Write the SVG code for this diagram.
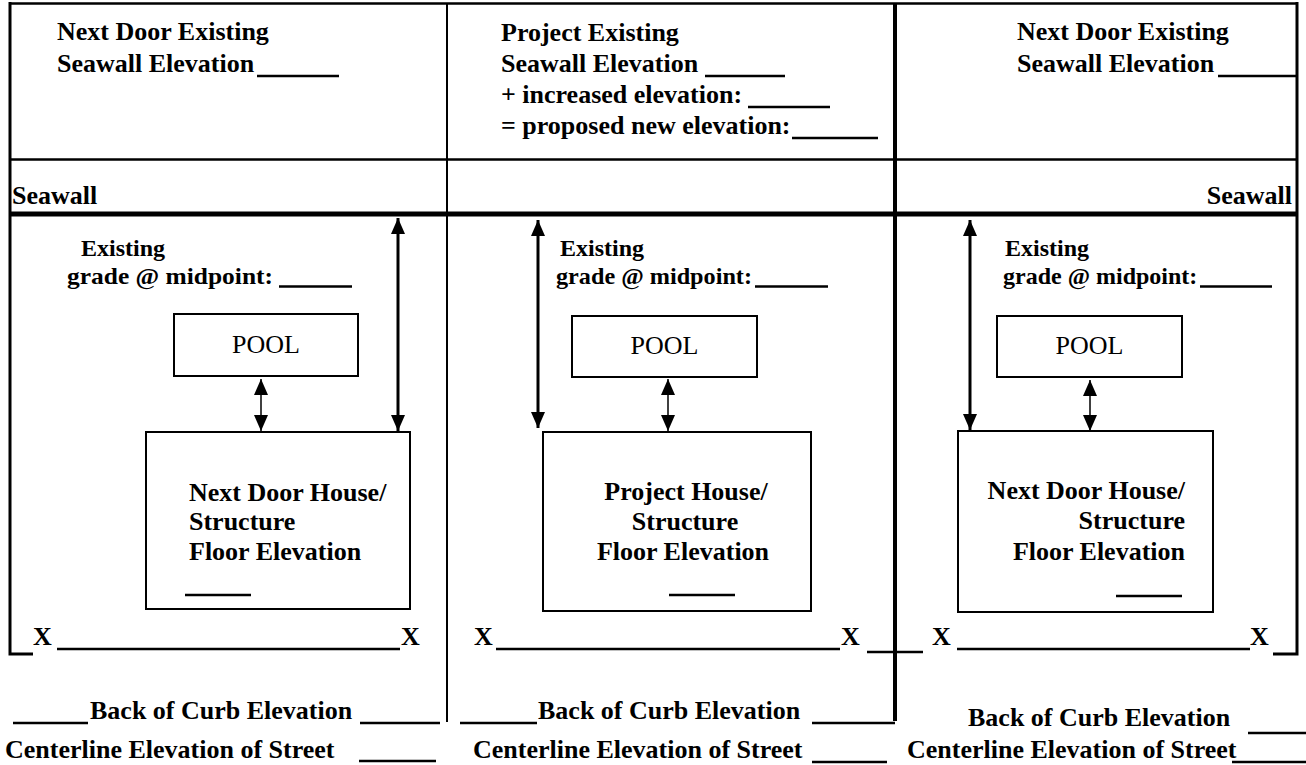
<svg xmlns="http://www.w3.org/2000/svg" width="1306" height="765" viewBox="0 0 1306 765" font-family="'Liberation Serif', 'Times New Roman', serif">
<style>
  .b { font-family: 'Liberation Serif', 'Times New Roman', serif; font-weight: bold; font-size: 26px; fill: #000; }
  .s { font-family: 'Liberation Serif', 'Times New Roman', serif; font-weight: bold; font-size: 24px; fill: #000; }
  .r { font-family: 'Liberation Serif', 'Times New Roman', serif; font-weight: normal; font-size: 26px; fill: #000; }
  .fr { stroke: #000; fill: none; stroke-width: 2.5; }
  .bx { stroke: #000; fill: #fff; stroke-width: 2; }
  .ul { stroke: #000; stroke-width: 2.5; }
  .big { stroke: #000; stroke-width: 3; fill: none; }
  .sm { stroke: #000; stroke-width: 1.5; fill: none; }
</style>
<defs>
  <marker id="ah" viewBox="0 0 16 14" refX="16" refY="7" markerWidth="16" markerHeight="14" orient="auto-start-reverse" markerUnits="userSpaceOnUse">
    <path d="M0,0 L16,7 L0,14 z" fill="#000"/>
  </marker>
</defs>
<rect width="1306" height="765" fill="#fff"/>

<g id="frame">
  <line class="fr" x1="10" y1="3.5" x2="1297" y2="3.5"/>
  <line class="fr" x1="10" y1="159.5" x2="1297" y2="159.5"/>
  <line x1="10" y1="214" x2="1297" y2="214" stroke="#000" stroke-width="5"/>
  <polyline points="10,2 10,654 33,654" stroke="#000" stroke-width="3" fill="none"/>
  <polyline points="1297,2 1297,654 1273,654" stroke="#000" stroke-width="3" fill="none"/>
  <line x1="447" y1="3" x2="447" y2="722" stroke="#000" stroke-width="2"/>
  <line x1="895" y1="3" x2="895" y2="721" stroke="#000" stroke-width="4"/>
  <line class="ul" x1="867" y1="652" x2="923" y2="652"/>
</g>

<g id="header-left">
  <text class="b" x="57" y="40">Next Door Existing</text>
  <text class="b" x="57" y="72">Seawall Elevation</text>
  <line class="ul" x1="257" y1="76" x2="339" y2="76"/>
  <text class="b" x="12" y="204">Seawall</text>
</g>
<g id="header-middle">
  <text class="b" x="501" y="41">Project Existing</text>
  <text class="b" x="501" y="72">Seawall Elevation</text>
  <line class="ul" x1="705" y1="76" x2="785" y2="76"/>
  <text class="b" x="501" y="103">+ increased elevation:</text>
  <line class="ul" x1="748" y1="107" x2="830" y2="107"/>
  <text class="b" x="501" y="134">= proposed new elevation:</text>
  <line class="ul" x1="792" y1="138" x2="878" y2="138"/>
</g>
<g id="header-right">
  <text class="b" x="1017" y="40">Next Door Existing</text>
  <text class="b" x="1017" y="72">Seawall Elevation</text>
  <line class="ul" x1="1218" y1="76" x2="1298" y2="76"/>
  <text class="b" x="1292" y="204" text-anchor="end">Seawall</text>
</g>

<g id="grade-left">
  <text class="s" x="81" y="256">Existing</text>
  <text class="s" x="67" y="284" textLength="206" lengthAdjust="spacingAndGlyphs">grade @ midpoint:</text>
  <line class="ul" x1="279" y1="286.5" x2="352" y2="286.5"/>
</g>
<g id="grade-middle">
  <text class="s" x="560" y="256">Existing</text>
  <text class="s" x="556" y="284" textLength="196" lengthAdjust="spacingAndGlyphs">grade @ midpoint:</text>
  <line class="ul" x1="755" y1="286.5" x2="828" y2="286.5"/>
</g>
<g id="grade-right">
  <text class="s" x="1005" y="256">Existing</text>
  <text class="s" x="1003" y="284">grade @ midpoint:</text>
  <line class="ul" x1="1200" y1="286.5" x2="1272" y2="286.5"/>
</g>

<g id="pool-left">
  <rect class="bx" x="174" y="314" width="184" height="62"/>
  <text class="r" x="266" y="353" text-anchor="middle">POOL</text>
</g>
<g id="pool-middle">
  <rect class="bx" x="572" y="316" width="185" height="61"/>
  <text class="r" x="664.5" y="354" text-anchor="middle">POOL</text>
</g>
<g id="pool-right">
  <rect class="bx" x="997" y="316" width="185" height="61"/>
  <text class="r" x="1089.5" y="354" text-anchor="middle">POOL</text>
</g>

<g id="house-left">
  <rect class="bx" x="146" y="432" width="264" height="177"/>
  <text class="b" x="189" y="501">Next Door House/</text>
  <text class="b" x="189" y="530">Structure</text>
  <text class="b" x="189" y="560">Floor Elevation</text>
  <line class="ul" x1="185" y1="595" x2="251" y2="595"/>
</g>
<g id="house-middle">
  <rect class="bx" x="543" y="432" width="268" height="179"/>
  <text class="b" x="686" y="500" text-anchor="middle">Project House/</text>
  <text class="b" x="685" y="530" text-anchor="middle">Structure</text>
  <text class="b" x="683" y="560" text-anchor="middle">Floor Elevation</text>
  <line class="ul" x1="669" y1="595" x2="735" y2="595"/>
</g>
<g id="house-right">
  <rect class="bx" x="958" y="431" width="255" height="181"/>
  <text class="b" x="1185" y="499" text-anchor="end">Next Door House/</text>
  <text class="b" x="1185" y="529" text-anchor="end">Structure</text>
  <text class="b" x="1185" y="560" text-anchor="end">Floor Elevation</text>
  <line class="ul" x1="1116" y1="596" x2="1182" y2="596"/>
</g>

<g id="connectors">
  <line class="big" x1="398" y1="218" x2="398" y2="431" marker-start="url(#ah)" marker-end="url(#ah)"/>
  <line class="sm" x1="261" y1="379" x2="261" y2="431" marker-start="url(#ah)" marker-end="url(#ah)"/>
  <line class="big" x1="538" y1="220" x2="538" y2="428" marker-start="url(#ah)" marker-end="url(#ah)"/>
  <line class="sm" x1="668" y1="379" x2="668" y2="431" stroke-width="1" marker-start="url(#ah)" marker-end="url(#ah)"/>
  <line class="big" x1="970" y1="220" x2="970" y2="430" marker-start="url(#ah)" marker-end="url(#ah)"/>
  <line class="sm" x1="1090" y1="380" x2="1090" y2="431" stroke-width="1" marker-start="url(#ah)" marker-end="url(#ah)"/>
</g>

<g id="street-left">
  <text class="b" x="33" y="645">X</text>
  <line class="ul" x1="57" y1="649" x2="400" y2="649"/>
  <text class="b" x="401" y="645">X</text>
  <line class="ul" x1="13" y1="723" x2="88" y2="723"/>
  <text class="b" x="90" y="719">Back of Curb Elevation</text>
  <line class="ul" x1="360" y1="723" x2="440" y2="723"/>
  <text class="b" x="5" y="758">Centerline Elevation of Street</text>
  <line class="ul" x1="359" y1="761" x2="436" y2="761"/>
</g>
<g id="street-middle">
  <text class="b" x="474" y="645">X</text>
  <line class="ul" x1="496" y1="649" x2="840" y2="649"/>
  <text class="b" x="841" y="645">X</text>
  <line class="ul" x1="460" y1="723" x2="537" y2="723"/>
  <text class="b" x="538" y="719">Back of Curb Elevation</text>
  <line class="ul" x1="812" y1="723" x2="895" y2="723"/>
  <text class="b" x="473" y="758">Centerline Elevation of Street</text>
  <line class="ul" x1="812" y1="762" x2="887" y2="762"/>
</g>
<g id="street-right">
  <text class="b" x="932" y="645">X</text>
  <line class="ul" x1="957" y1="649" x2="1250" y2="649"/>
  <text class="b" x="1250" y="645">X</text>
  <text class="b" x="968" y="726">Back of Curb Elevation</text>
  <line class="ul" x1="1248" y1="733" x2="1306" y2="733"/>
  <text class="b" x="907" y="758">Centerline Elevation of Street</text>
  <line class="ul" x1="1232" y1="762" x2="1306" y2="762"/>
</g>
</svg>
